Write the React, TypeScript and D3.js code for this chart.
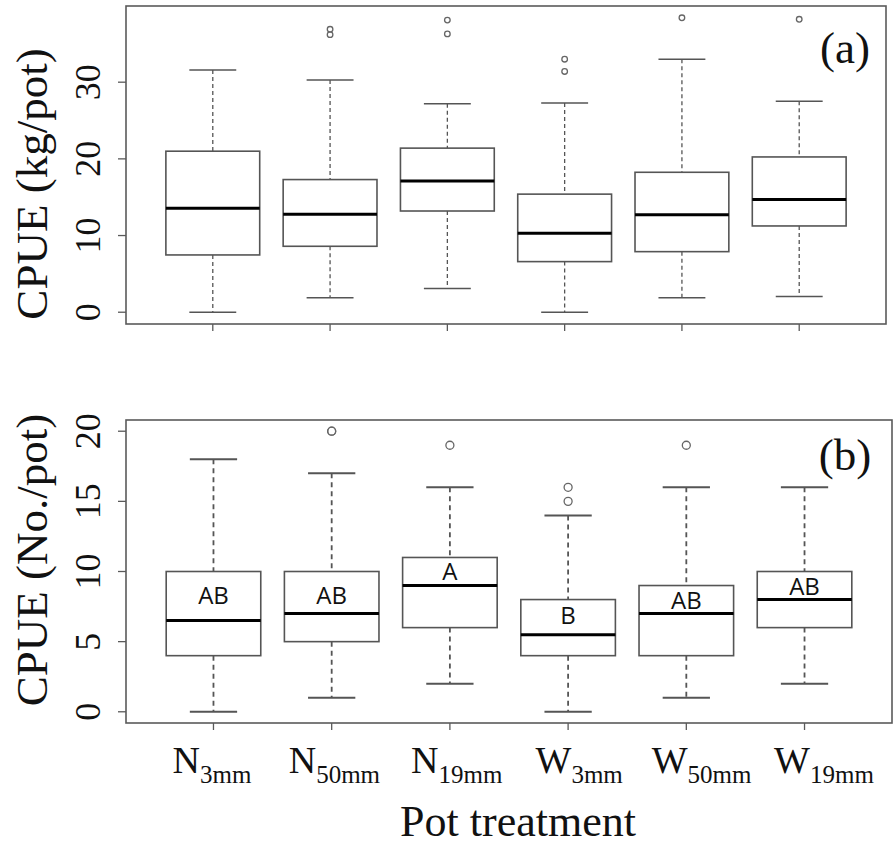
import React from 'react';
import * as d3 from 'd3';

// categories (pot treatments)
const treatments = ['N3mm', 'N50mm', 'N19mm', 'W3mm', 'W50mm', 'W19mm'];
const labelMain = ['N', 'N', 'N', 'W', 'W', 'W'];
const labelSub = ['3mm', '50mm', '19mm', '3mm', '50mm', '19mm'];

// panel (a): CPUE kg/pot
const kgLow = [0, 1.9, 3.1, 0, 1.9, 2.05];
const kgQ1 = [7.47, 8.6, 13.2, 6.6, 7.9, 11.25];
const kgMed = [13.56, 12.78, 17.1, 10.3, 12.7, 14.7];
const kgQ3 = [21.0, 17.3, 21.4, 15.4, 18.25, 20.25];
const kgHigh = [31.6, 30.3, 27.2, 27.3, 33.0, 27.5];
const kgOut = [[], [36.2, 36.9], [36.3, 38.1], [31.4, 33.0], [38.4], [38.2]];
const kgTicks = [0, 10, 20, 30];

// panel (b): CPUE No./pot
const noLow = [0, 1, 2, 0, 1, 2];
const noQ1 = [4, 5, 6, 4, 4, 6];
const noMed = [6.5, 7, 9, 5.5, 7, 8];
const noQ3 = [10, 10, 11, 8, 9, 10];
const noHigh = [18, 17, 16, 14, 16, 16];
const noOut = [[], [20, 20], [19], [15, 16], [19], []];
const noTicks = [0, 5, 10, 15, 20];
const groupLetters = ['AB', 'AB', 'A', 'B', 'AB', 'AB'];
const letterY = [7.7, 7.7, 9.4, 6.27, 7.35, 8.35];

const serif = '"Liberation Serif", "Times New Roman", serif';
const frameColor = '#5a5a5a';

interface PanelProps {
  left: number; right: number; top: number; bottom: number;
  low: number[]; q1: number[]; med: number[]; q3: number[]; high: number[];
  out: number[][]; ticks: number[];
  title: string; titleSize: number; titleY: number;
  tag: string; tagBaseline: number;
  outR: number; lw: number; dash: string;
  letters?: string[]; lettersY?: number[];
}

const Panel: React.FC<PanelProps> = (p) => {
  // R-style extended axes (4% padding)
  const all = [...p.low, ...p.high, ...p.out.flat()];
  const [mn, mx] = d3.extent(all) as [number, number];
  const pad = (mx - mn) * 0.04;
  const y = d3.scaleLinear().domain([mn - pad, mx + pad]).range([p.bottom, p.top]);
  const x = d3.scaleLinear().domain([0.26, treatments.length + 0.74]).range([p.left, p.right]);
  const unit = x(1) - x(0);
  const bw = unit * 0.8;
  const cw = unit * 0.4;

  return (
    <g>
      {/* frame */}
      <rect x={p.left} y={p.top} width={p.right - p.left} height={p.bottom - p.top}
        fill="none" stroke={frameColor} strokeWidth={1.6} />
      {/* y axis ticks + labels */}
      {p.ticks.map(t => (
        <g key={t}>
          <line x1={p.left - 8} x2={p.left} y1={y(t)} y2={y(t)} stroke={frameColor} strokeWidth={1.3} />
          <text transform={`translate(100,${y(t)}) rotate(-90)`} textAnchor="middle"
            fontFamily={serif} fontSize={36} fill="#111">{t}</text>
        </g>
      ))}
      <text transform={`translate(47,${p.titleY}) rotate(-90)`} textAnchor="middle"
        fontFamily={serif} fontSize={p.titleSize} fill="#111">{p.title}</text>
      {/* x ticks */}
      {treatments.map((c, i) => (
        <line key={c} x1={x(i + 1)} x2={x(i + 1)} y1={p.bottom} y2={p.bottom + 7}
          stroke={frameColor} strokeWidth={1.3} />
      ))}
      {/* boxes */}
      {treatments.map((c, i) => {
        const cx = x(i + 1);
        return (
          <g key={c}>
            <line x1={cx} x2={cx} y1={y(p.high[i])} y2={y(p.q3[i])} stroke="#555" strokeWidth={p.lw} strokeDasharray={p.dash} />
            <line x1={cx} x2={cx} y1={y(p.q1[i])} y2={y(p.low[i])} stroke="#555" strokeWidth={p.lw} strokeDasharray={p.dash} />
            <line x1={cx - cw / 2} x2={cx + cw / 2} y1={y(p.high[i])} y2={y(p.high[i])} stroke="#555" strokeWidth={p.lw + 0.2} />
            <line x1={cx - cw / 2} x2={cx + cw / 2} y1={y(p.low[i])} y2={y(p.low[i])} stroke="#555" strokeWidth={p.lw + 0.2} />
            <rect x={cx - bw / 2} y={y(p.q3[i])} width={bw} height={y(p.q1[i]) - y(p.q3[i])}
              fill="white" stroke="#555" strokeWidth={1.6} />
            <line x1={cx - bw / 2} x2={cx + bw / 2} y1={y(p.med[i])} y2={y(p.med[i])} stroke="#000" strokeWidth={3} />
            {p.out[i].map((v, j) => (
              <circle key={j} cx={cx} cy={y(v)} r={p.outR} fill="none" stroke="#666" strokeWidth={1.3} />
            ))}
            {p.letters && p.lettersY && (
              <text x={cx} y={y(p.lettersY[i])} textAnchor="middle" fontFamily='"Open Sans", sans-serif'
                fontSize={24} fill="#111">{p.letters[i]}</text>
            )}
          </g>
        );
      })}
      <text x={845} y={p.tagBaseline} textAnchor="middle" fontFamily={serif} fontSize={45} fill="#111">{p.tag}</text>
    </g>
  );
};

export default function App() {
  const labelX = d3.scalePoint<string>().domain(treatments).range([212, 824]);
  return (
    <svg width={893} height={845} style={{ position: 'absolute', left: 0, top: 0, background: 'white' }}>
      <Panel left={126} right={886} top={6} bottom={324}
        low={kgLow} q1={kgQ1} med={kgMed} q3={kgQ3} high={kgHigh} out={kgOut} ticks={kgTicks}
        title="CPUE (kg/pot)" titleSize={45} titleY={184} tag="(a)" tagBaseline={63} outR={2.8}
        lw={1.3} dash="4 3" />
      <Panel left={126} right={892} top={420} bottom={723}
        low={noLow} q1={noQ1} med={noMed} q3={noQ3} high={noHigh} out={noOut} ticks={noTicks}
        title="CPUE (No./pot)" titleSize={45} titleY={560} tag="(b)" tagBaseline={470} outR={4}
        lw={1.8} dash="5 4" letters={groupLetters} lettersY={letterY} />
      {treatments.map((c, i) => (
        <text key={c} x={labelX(c)} y={773} textAnchor="middle" fontFamily={serif} fill="#111">
          <tspan fontSize={38}>{labelMain[i]}</tspan>
          <tspan fontSize={25} dy={10}>{labelSub[i]}</tspan>
        </text>
      ))}
      <text x={518} y={836} textAnchor="middle" fontFamily={serif} fontSize={44} fill="#111">Pot treatment</text>
    </svg>
  );
}
